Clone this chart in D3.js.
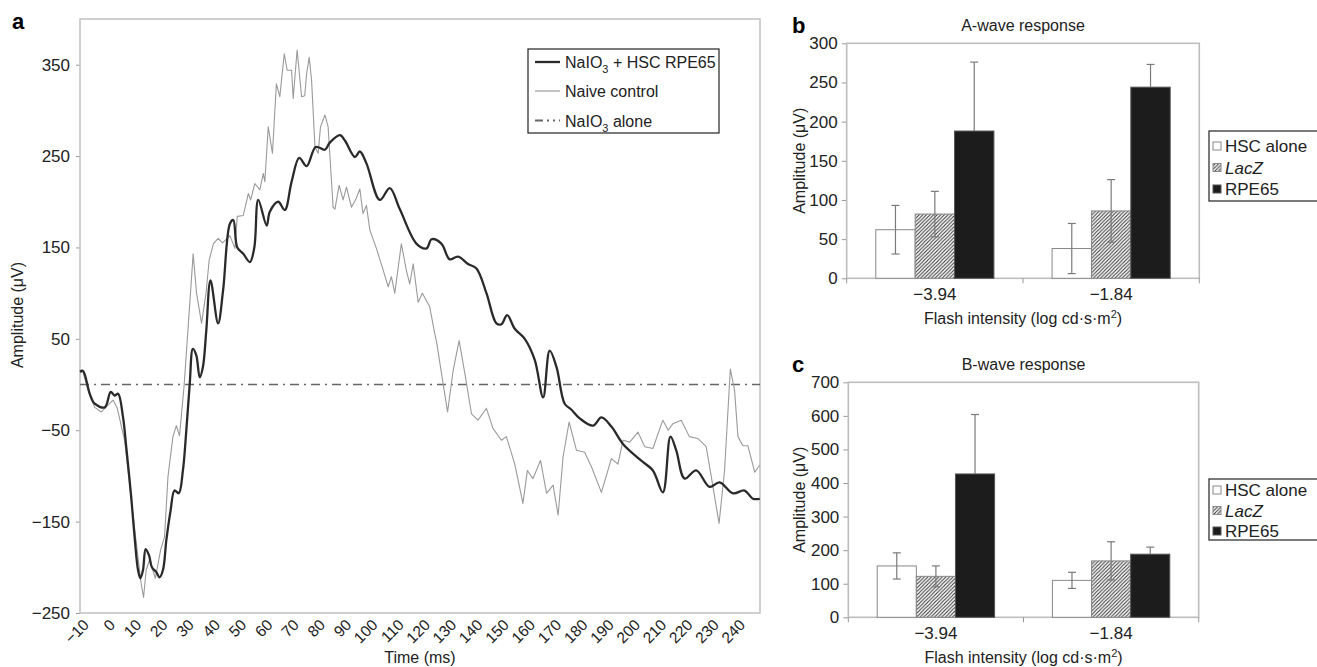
<!DOCTYPE html>
<html>
<head>
<meta charset="utf-8">
<script src="https://cdn.jsdelivr.net/npm/d3@7"></script>
<style>
  body { margin: 0; background: #fff; }
  svg { display: block; font-family: "Liberation Sans", Arial, sans-serif; }
</style>
</head>
<body>
<svg id="fig" width="1317" height="667"></svg>
<script>
// ---- panel a : ERG traces (time in ms, amplitude in uV)
const timeRpe = [-10, -8.9, -6.3, -4.4, -0.6, 1.7, 3.2, 4.5, 6.4, 7.6, 9.5, 10.8, 12.1, 13, 14, 15, 16.3, 17.4, 19, 20.3,
  21.6, 22.9, 24.5, 26, 27.6, 29.2, 30.5, 31.8, 33, 34.3, 35.6, 36.8, 38.1, 39.7, 42.6, 44.5, 47.1, 48.4, 49.9, 52.2,
  54.7, 56.4, 57.9, 61.1, 62.3, 65.5, 68, 70.6, 73.5, 76.3, 79.8, 83.3, 85.2, 89, 90.9, 94.7, 96.6, 99.1, 104.2, 108,
  111.8, 118.2, 122, 123.9, 127.7, 130.8, 134, 137.8, 141, 144.8, 148.6, 150.5, 152.7, 155.6, 159.4, 163.2, 166.4, 168.9, 171.5, 174.6,
  177, 180.3, 185.4, 188.6, 192.4, 196.8, 203.2, 208.2, 212, 214.9, 217.1, 220.3, 224.7, 229.8, 233.6, 238.7, 243.1, 246.3, 248.9]
const ampRpe = [14, 15, -10, -21, -25, -8, -12, -10, -36, -68, -123, -167, -203, -212, -203, -180, -187, -200, -205, -211,
  -203, -170, -138, -116, -119, -94, -50, 1, 39, 32, 8, 19, 59, 114, 67, 103, 176, 180, 150, 143,
  134, 150, 202, 174, 189, 200, 191, 222, 248, 239, 260, 257, 265, 273, 267, 249, 255, 242, 202, 215,
  192, 154, 149, 159, 154, 137, 140, 132, 127, 100, 67, 66, 76, 61, 50, 27, -14, 37, 19, -21,
  -27, -37, -45, -36, -46, -65, -82, -94, -118, -57, -72, -103, -94, -112, -107, -119, -116, -125, -125]

const timeNaive = [-10, -8.9, -6.3, -4.4, -1.9, 2.6, 4.2, 7, 10.8, 13.3, 14.2, 15.2, 16.5, 18.7, 20.7, 22.2, 23.5, 25.4, 26.7, 27.9,
  29.6, 31.1, 33.1, 34.4, 36.3, 38, 39.2, 40.8, 42.6, 44.3, 47.1, 49, 49.9, 52.2, 54.1, 55, 56.6, 58.5, 59.8, 60.4,
  61.7, 63.3, 64.8, 66.1, 67.8, 68.9, 70.6, 71.2, 72.7, 74.4, 75.6, 76.3, 77.3, 78.2, 79.5, 80.7, 81.6, 83.3, 84.5, 86.4,
  87.1, 88.7, 90.2, 91.5, 93.4, 95.1, 96.6, 97.8, 99.1, 100.4, 102.9, 105.5, 107.4, 108.6, 109.9, 112.4, 114.3, 115.6, 116.9, 118.8,
  120.4, 123.2, 125.1, 125.8, 127.7, 130, 132.1, 134.4, 136.6, 139.1, 141.6, 144.8, 147.3, 150.5, 152.4, 155.6, 158.7, 160.4, 162.5, 165.4,
  167.7, 170.2, 172.1, 174, 176.3, 179.1, 182.2, 184.8, 188.6, 192.4, 194.9, 196.8, 199.4, 202.5, 205.1, 208.2, 212, 214, 215.8, 219,
  222.1, 225.3, 228.5, 231.1, 233.4, 235.5, 237.7, 239.3, 240.6, 242.5, 244.4, 247, 248.9]
const ampNaive = [13, 14, -12, -25, -30, -17, -26, -61, -158, -218, -233, -203, -192, -212, -181, -167, -101, -57, -45, -56,
  -3, 59, 143, 100, 67, 100, 136, 154, 160, 155, 163, 149, 184, 185, 209, 202, 220, 213, 231, 222,
  282, 253, 329, 315, 362, 344, 344, 313, 366, 315, 316, 340, 358, 333, 260, 253, 282, 295, 282, 194,
  192, 218, 202, 216, 194, 203, 214, 187, 196, 169, 149, 125, 107, 118, 100, 154, 125, 110, 132, 90,
  100, 85, 56, 47, 12, -30, 15, 48, 12, -32, -39, -26, -48, -61, -57, -87, -130, -94, -103, -83,
  -119, -110, -143, -79, -41, -72, -74, -90, -118, -81, -87, -61, -63, -52, -68, -70, -39, -50, -43, -39,
  -57, -59, -68, -112, -152, -94, 17, -6, -57, -67, -67, -96, -88]

const timeAlone = [-10, 249]
const ampAlone = [0, 0]

const timeTicks = [-10, 0, 10, 20, 30, 40, 50, 60, 70, 80, 90, 100, 110, 120, 130, 140, 150, 160, 170, 180, 190, 200, 210, 220, 230, 240]
const ampTicks = [-250, -150, -50, 50, 150, 250, 350]

// ---- panels b and c : bar charts
const intensities = ['−3.94', '−1.84']
const groups = ['HSC alone', 'LacZ', 'RPE65']
const aHsc = [62, 38]
const aLacz = [82, 86]
const aRpe = [188, 244]
const aHscErr = [31, 32]
const aLaczErr = [29, 40]
const aRpeErr = [88, 29]
const bHsc = [153, 110]
const bLacz = [122, 168]
const bRpe = [427, 188]
const bHscErr = [39, 24]
const bLaczErr = [31, 57]
const bRpeErr = [177, 21]
const aWaveTicks = [0, 50, 100, 150, 200, 250, 300]
const bWaveTicks = [0, 100, 200, 300, 400, 500, 600, 700]

const svg = d3.select('#fig')
const minus = d => d < 0 ? '−' + Math.abs(d) : String(d)
const FS = 16

// hatch for LacZ
const defs = svg.append('defs')
defs.append('pattern')
  .attr('id', 'hatch')
  .attr('patternUnits', 'userSpaceOnUse')
  .attr('width', 3.6).attr('height', 3.6)
  .call(p => {
    p.append('rect').attr('width', 3.6).attr('height', 3.6).attr('fill', '#fff')
    p.append('path').attr('d', 'M-0.9,0.9 l1.8,-1.8 M0,3.6 l3.6,-3.6 M2.7,4.5 l1.8,-1.8')
      .attr('stroke', '#3a3a3a').attr('stroke-width', 1.1)
  })

// ================= panel a =================
const pa = { l: 80, r: 760, t: 19, b: 613 }
const x = d3.scaleLinear().domain([-10, 249]).range([pa.l, pa.r])
const y = d3.scaleLinear().domain([-250, 400]).range([pa.b, pa.t])

const gA = svg.append('g')

const yAxA = gA.append('g')
  .attr('transform', `translate(${pa.l},0)`)
  .call(d3.axisLeft(y).tickValues(ampTicks).tickSize(4).tickPadding(6).tickFormat(minus))
yAxA.select('.domain').remove()
yAxA.selectAll('line').attr('stroke', '#999')
yAxA.selectAll('text').attr('font-size', FS + 1).attr('fill', '#222').attr('font-family', null)

gA.append('rect')
  .attr('x', pa.l).attr('y', pa.t)
  .attr('width', pa.r - pa.l).attr('height', pa.b - pa.t)
  .attr('fill', 'none').attr('stroke', '#c4c4c4').attr('stroke-width', 1.6)

gA.selectAll('.xt')
  .data(timeTicks)
  .join('text')
  .attr('class', 'xt')
  .attr('transform', d => `translate(${x(d) + 6},${pa.b + 9}) rotate(-45)`)
  .attr('dy', '0.35em')
  .attr('text-anchor', 'end')
  .attr('font-size', FS - 0.5)
  .attr('fill', '#222')
  .text(minus)

const line = d3.line().x(d => x(d[0])).y(d => y(d[1]))

gA.append('path')
  .datum(d3.zip(timeAlone, ampAlone))
  .attr('d', line)
  .attr('fill', 'none')
  .attr('stroke', '#666')
  .attr('stroke-width', 1.6)
  .attr('stroke-dasharray', '9,5,2,5')

gA.append('path')
  .datum(d3.zip(timeNaive, ampNaive))
  .attr('d', line)
  .attr('fill', 'none')
  .attr('stroke', '#9a9a9a')
  .attr('stroke-width', 1.1)
  .attr('stroke-linejoin', 'round')

gA.append('path')
  .datum(d3.zip(timeRpe, ampRpe))
  .attr('d', line.curve(d3.curveCatmullRom))
  .attr('fill', 'none')
  .attr('stroke', '#2a2a2a')
  .attr('stroke-width', 2.3)
  .attr('stroke-linejoin', 'round')

gA.append('text').attr('x', 420).attr('y', 663).attr('text-anchor', 'middle')
  .attr('font-size', FS).attr('fill', '#222').text('Time (ms)')
gA.append('text').attr('transform', 'translate(23,315) rotate(-90)').attr('text-anchor', 'middle')
  .attr('font-size', FS).attr('fill', '#222').text('Amplitude (μV)')
gA.append('text').attr('x', 12).attr('y', 29).attr('font-size', 22).attr('font-weight', 'bold').text('a')

// legend a
const lgA = gA.append('g')
lgA.append('rect').attr('x', 528).attr('y', 49).attr('width', 191).attr('height', 84)
  .attr('fill', '#fff').attr('stroke', '#222').attr('stroke-width', 1.2)
const lgRows = [
  { y: 62, stroke: '#2a2a2a', w: 2.3, dash: null, parts: [['NaIO', 0], ['3', 1], [' + HSC RPE65', 0]] },
  { y: 91, stroke: '#9a9a9a', w: 1.2, dash: null, parts: [['Naive control', 0]] },
  { y: 120.5, stroke: '#666', w: 1.8, dash: '8,4,2,4,2,4', parts: [['NaIO', 0], ['3', 1], [' alone', 0]] }
]
lgRows.forEach(r => {
  lgA.append('line').attr('x1', 535).attr('x2', 560).attr('y1', r.y).attr('y2', r.y)
    .attr('stroke', r.stroke).attr('stroke-width', r.w).attr('stroke-dasharray', r.dash)
  const t = lgA.append('text').attr('x', 565).attr('y', r.y + 6).attr('font-size', FS).attr('fill', '#222')
  let sub = false
  r.parts.forEach(([s, isSub]) => {
    const ts = t.append('tspan').text(s)
    if (isSub) { ts.attr('font-size', 11).attr('dy', 5); sub = true } else if (sub) { ts.attr('dy', -5); sub = false }
  })
})

// ================= panels b, c =================
function barPanel (cfg) {
  const g = svg.append('g')
  const x0 = d3.scaleBand().domain(intensities).range([cfg.l, cfg.r]).paddingInner(0.33).paddingOuter(0.165)
  const x1 = d3.scaleBand().domain(groups).range([0, x0.bandwidth()])
  const yb = d3.scaleLinear().domain([0, cfg.ticks[cfg.ticks.length - 1]]).range([cfg.b, cfg.t])

  const yAx = g.append('g').attr('transform', `translate(${cfg.l},0)`)
    .call(d3.axisLeft(yb).tickValues(cfg.ticks).tickSize(5).tickPadding(4))
  yAx.select('.domain').remove()
  yAx.selectAll('line').attr('stroke', '#999')
  yAx.selectAll('text').attr('font-size', FS + 1).attr('fill', '#222').attr('font-family', null)

  g.append('rect').attr('x', cfg.l).attr('y', cfg.t).attr('width', cfg.r - cfg.l).attr('height', cfg.b - cfg.t)
    .attr('fill', 'none').attr('stroke', '#bdbdbd').attr('stroke-width', 1.6)

  // category boundary ticks
  g.selectAll('.bt').data([0, 1, 2]).join('line')
    .attr('x1', i => cfg.l + i * x0.step()).attr('x2', i => cfg.l + i * x0.step())
    .attr('y1', cfg.b).attr('y2', cfg.b + 5).attr('stroke', '#999')

  const rows = []
  intensities.forEach((c, i) => groups.forEach((s, j) => rows.push({ c, s, j, v: cfg.vals[j][i], e: cfg.errs[j][i] })))
  const fills = ['#fff', 'url(#hatch)', '#1c1c1c']
  const strokes = ['#888', '#888', '#555']

  g.selectAll('.bar').data(rows).join('rect')
    .attr('x', d => x0(d.c) + x1(d.s)).attr('y', d => yb(d.v))
    .attr('width', x1.bandwidth()).attr('height', d => yb(0) - yb(d.v))
    .attr('fill', d => fills[d.j]).attr('stroke', d => strokes[d.j]).attr('stroke-width', 1)

  const eb = g.selectAll('.err').data(rows).join('g').attr('stroke', '#7a7a7a').attr('stroke-width', 1.2)
  eb.each(function (d) {
    const cx = x0(d.c) + x1(d.s) + x1.bandwidth() / 2
    const lo = d.j === 2 ? d.v : d.v - d.e
    const e = d3.select(this)
    e.append('line').attr('x1', cx).attr('x2', cx).attr('y1', yb(lo)).attr('y2', yb(d.v + d.e))
    e.append('line').attr('x1', cx - 4).attr('x2', cx + 4).attr('y1', yb(d.v + d.e)).attr('y2', yb(d.v + d.e))
    if (d.j !== 2) e.append('line').attr('x1', cx - 4).attr('x2', cx + 4).attr('y1', yb(lo)).attr('y2', yb(lo))
  })

  g.selectAll('.xl').data(intensities).join('text')
    .attr('x', d => x0(d) + x0.bandwidth() / 2).attr('y', cfg.b + 22)
    .attr('text-anchor', 'middle').attr('font-size', FS + 1).attr('fill', '#222').text(d => d)

  const xt = g.append('text').attr('x', (cfg.l + cfg.r) / 2).attr('y', cfg.b + 46)
    .attr('text-anchor', 'middle').attr('font-size', FS).attr('fill', '#222')
  xt.append('tspan').text('Flash intensity (log cd·s·m')
  xt.append('tspan').attr('font-size', 11).attr('dy', -6).text('2')
  xt.append('tspan').attr('dy', 6).text(')')

  g.append('text').attr('x', (cfg.l + cfg.r) / 2).attr('y', cfg.t - 12)
    .attr('text-anchor', 'middle').attr('font-size', FS).attr('fill', '#222').text(cfg.title)
  g.append('text').attr('transform', `translate(805,${(cfg.t + cfg.b) / 2}) rotate(-90)`)
    .attr('text-anchor', 'middle').attr('font-size', FS).attr('fill', '#222').text('Amplitude (μV)')
  g.append('text').attr('x', 792).attr('y', cfg.t - 10).attr('font-size', 22).attr('font-weight', 'bold').text(cfg.letter)

  // legend
  const lg = g.append('g')
  lg.append('rect').attr('x', 1209).attr('y', cfg.lgY).attr('width', 120).attr('height', cfg.lgH)
    .attr('fill', '#fff').attr('stroke', '#222').attr('stroke-width', 1.2)
  groups.forEach((s, j) => {
    const cy = cfg.lgY + cfg.lgPad + j * cfg.lgStep
    lg.append('rect').attr('x', 1213).attr('y', cy - 4).attr('width', 8).attr('height', 8)
      .attr('fill', fills[j]).attr('stroke', strokes[j]).attr('stroke-width', 1)
    lg.append('text').attr('x', 1225).attr('y', cy + 6).attr('font-size', FS + 1).attr('fill', '#222')
      .attr('font-style', j === 1 ? 'italic' : null).text(s)
  })
}

barPanel({
  l: 846.7, r: 1199.3, t: 43.3, b: 278.3, ticks: aWaveTicks, title: 'A-wave response', letter: 'b',
  vals: [aHsc, aLacz, aRpe], errs: [aHscErr, aLaczErr, aRpeErr], lgY: 131, lgH: 70, lgPad: 15, lgStep: 21.5
})
barPanel({
  l: 848.3, r: 1198.7, t: 382.3, b: 617.3, ticks: bWaveTicks, title: 'B-wave response', letter: 'c',
  vals: [bHsc, bLacz, bRpe], errs: [bHscErr, bLaczErr, bRpeErr], lgY: 479, lgH: 61, lgPad: 11, lgStep: 20.5
})
</script>
</body>
</html>
